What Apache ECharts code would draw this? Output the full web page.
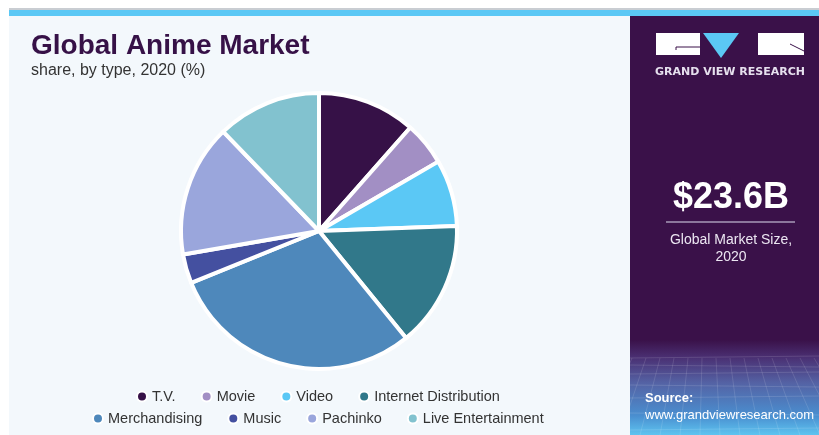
<!DOCTYPE html>
<html>
<head>
<meta charset="utf-8">
<script src="https://cdn.jsdelivr.net/npm/echarts@6/dist/echarts.min.js"></script>
<style>
  html, body { margin: 0; padding: 0; background: #fff; }
  #chartDiv { width: 819px; height: 435px; }
</style>
</head>
<body>
<div id="chartDiv"></div>
<script>
// 数据
let categories = ['T.V.', 'Movie', 'Video', 'Internet Distribution',
    'Merchandising', 'Music', 'Pachinko', 'Live Entertainment'];
let shares = [11.5, 5.1, 7.8, 14.7, 29.7, 3.4, 15.5, 12.2];
let sliceColors = ['#361147', '#a28fc4', '#5bc8f5', '#31788a',
    '#4e88bb', '#4450a0', '#9aa6dc', '#82c2cf'];
let legendRow1 = categories.slice(0, 4);
let legendRow2 = categories.slice(4);

let myChart = echarts.init(document.getElementById('chartDiv'));
window.onresize = myChart.resize;

let pieData = [];
for (let i = 0; i < categories.length; i++) {
    pieData.push({
        name: categories[i],
        value: shares[i],
        itemStyle: {color: sliceColors[i]}
    });
}

// 右侧面板底部的网格纹理
let gridLines = [];
for (let k = 0; k < 9; k++) {
    let y = 358 + k * k * 1.0 + k * 6;
    gridLines.push({
        type: 'line',
        shape: {x1: 630, y1: y, x2: 819, y2: y + (k % 2 ? 2 : -2)},
        style: {stroke: 'rgba(255,255,255,0.13)', lineWidth: 1},
        silent: true
    });
}
for (let k = 0; k < 14; k++) {
    let xt = 632 + k * 14;
    let xb = 600 + k * 20;
    gridLines.push({
        type: 'line',
        shape: {x1: xt, y1: 358, x2: xb, y2: 435},
        style: {stroke: 'rgba(255,255,255,0.12)', lineWidth: 1},
        silent: true
    });
}

let legendBase = {
    orient: 'horizontal',
    icon: 'circle',
    itemWidth: 10,
    itemHeight: 10,
    itemGap: 25,
    selectedMode: false,
    textStyle: {
        color: '#333',
        fontSize: 14.5,
        fontFamily: 'Liberation Sans, Arial, sans-serif'
    }
};

let option = {
    backgroundColor: '#ffffff',
    animation: false,
    title: [{
        text: 'Global Anime Market',
        left: 26,
        top: 27,
        textStyle: {
            color: '#361147',
            fontSize: 28,
            fontWeight: 900,
            fontFamily: 'Liberation Sans, Arial, sans-serif'
        },
        subtext: 'share, by type, 2020 (%)',
        subtextStyle: {
            color: '#333',
            fontSize: 16,
            fontFamily: 'Liberation Sans, Arial, sans-serif'
        },
        itemGap: 3
    }],
    legend: [
        Object.assign({}, legendBase, {data: legendRow1, left: 131, top: 384}),
        Object.assign({}, legendBase, {data: legendRow2, left: 87, top: 406})
    ],
    graphic: [
        // 背景
        {type: 'rect', z: -10, shape: {x: 9, y: 9, width: 810, height: 426},
            style: {fill: '#f3f8fc'}, silent: true},
        {type: 'rect', z: -9, shape: {x: 9, y: 8, width: 810, height: 2},
            style: {fill: '#c9cdd2'}, silent: true},
        {type: 'rect', z: -9, shape: {x: 9, y: 10, width: 810, height: 6},
            style: {fill: '#5bc8f5'}, silent: true},
        {type: 'rect', z: -8, shape: {x: 630, y: 16, width: 189, height: 419},
            style: {fill: '#3a1149'}, silent: true},
        {type: 'rect', z: -7, shape: {x: 630, y: 340, width: 189, height: 95},
            style: {fill: new echarts.graphic.LinearGradient(0, 0, 0, 1, [
                {offset: 0, color: '#3a1149'},
                {offset: 0.18, color: '#4a2f72'},
                {offset: 0.45, color: '#5462a4'},
                {offset: 0.8, color: '#4a8fd0'},
                {offset: 1, color: '#5ec4f0'}
            ])}, silent: true},
        {type: 'group', z: -6, children: gridLines},
        // logo
        {type: 'rect', shape: {x: 656, y: 33, width: 44, height: 22},
            style: {fill: '#ffffff'}, silent: true},
        {type: 'polyline', shape: {points: [[676, 50], [676, 47], [700, 47]]},
            style: {stroke: '#3a1149', lineWidth: 1}, silent: true},
        {type: 'polygon', shape: {points: [[703, 33], [739, 33], [721, 58]]},
            style: {fill: '#5bc8f5'}, silent: true},
        {type: 'rect', shape: {x: 758, y: 33, width: 46, height: 22},
            style: {fill: '#ffffff'}, silent: true},
        {type: 'line', shape: {x1: 790, y1: 44, x2: 804, y2: 51},
            style: {stroke: '#3a1149', lineWidth: 1}, silent: true},
        {type: 'text', x: 730, y: 72,
            style: {text: 'GRAND VIEW RESEARCH', fill: '#e6e0ee', fontSize: 11,
                fontWeight: 'bold', fontFamily: 'DejaVu Sans, sans-serif',
                align: 'center', verticalAlign: 'middle'}, silent: true},
        // 市场规模
        {type: 'text', x: 731, y: 198,
            style: {text: '$23.6B', fill: '#ffffff', fontSize: 36,
                fontWeight: 'bold', fontFamily: 'Liberation Sans, Arial, sans-serif',
                align: 'center', verticalAlign: 'middle'}, silent: true},
        {type: 'line', shape: {x1: 666, y1: 222, x2: 795, y2: 222},
            style: {stroke: '#a89ab8', lineWidth: 1.5}, silent: true},
        {type: 'text', x: 731, y: 240,
            style: {text: 'Global Market Size,', fill: '#ece6f2', fontSize: 14,
                fontFamily: 'Liberation Sans, Arial, sans-serif',
                align: 'center', verticalAlign: 'middle'}, silent: true},
        {type: 'text', x: 731, y: 257,
            style: {text: '2020', fill: '#ece6f2', fontSize: 14,
                fontFamily: 'Liberation Sans, Arial, sans-serif',
                align: 'center', verticalAlign: 'middle'}, silent: true},
        // 来源
        {type: 'text', x: 645, y: 398,
            style: {text: 'Source:', fill: '#ffffff', fontSize: 13,
                fontWeight: 'bold', fontFamily: 'Liberation Sans, Arial, sans-serif',
                verticalAlign: 'middle'}, silent: true},
        {type: 'text', x: 645, y: 415,
            style: {text: 'www.grandviewresearch.com', fill: '#ffffff', fontSize: 13,
                fontFamily: 'Liberation Sans, Arial, sans-serif',
                verticalAlign: 'middle'}, silent: true}
    ],
    series: [{
        type: 'pie',
        center: [319, 231],
        radius: [0, 138],
        startAngle: 90,
        clockwise: true,
        silent: true,
        label: {show: false},
        labelLine: {show: false},
        itemStyle: {borderColor: '#ffffff', borderWidth: 4},
        data: pieData
    }]
};
myChart.setOption(option);
</script>
</body>
</html>
